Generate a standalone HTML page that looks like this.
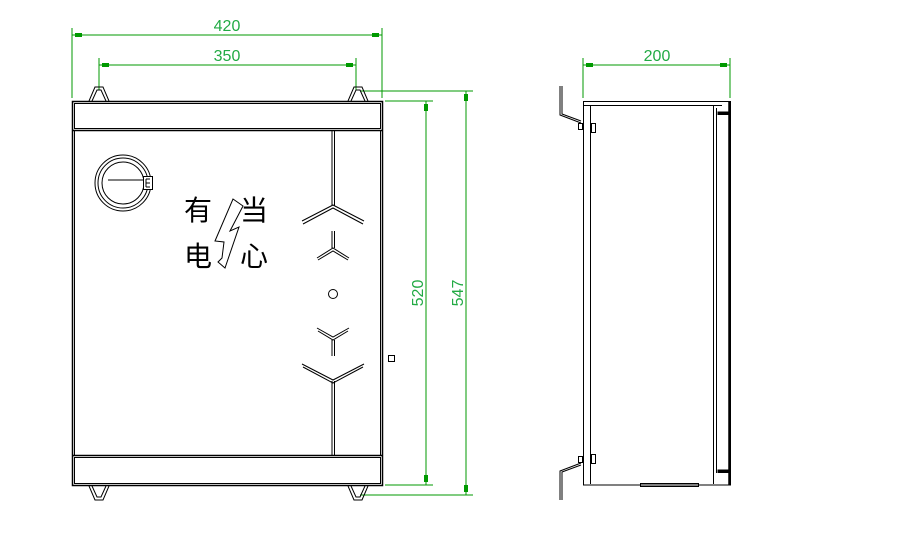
<!DOCTYPE html>
<html><head><meta charset="utf-8"><style>body{margin:0;background:#fff}svg{display:block}</style></head><body>
<svg width="907" height="544" viewBox="0 0 907 544" xmlns="http://www.w3.org/2000/svg">
<g stroke="#009900" stroke-width="1" fill="none">
<line x1="72" y1="28" x2="72" y2="98"/><line x1="382" y1="28" x2="382" y2="98"/>
<line x1="72" y1="35" x2="382" y2="35"/>
<line x1="99" y1="58" x2="99" y2="90"/><line x1="356" y1="58" x2="356" y2="90"/>
<line x1="99" y1="65" x2="356" y2="65"/>
<line x1="385" y1="101" x2="433" y2="101"/><line x1="385" y1="485" x2="433" y2="485"/>
<line x1="426" y1="101" x2="426" y2="485"/>
<line x1="360" y1="91" x2="473" y2="91"/><line x1="360" y1="495" x2="473" y2="495"/>
<line x1="466" y1="91" x2="466" y2="495"/>
<line x1="583" y1="58" x2="583" y2="98"/><line x1="730" y1="58" x2="730" y2="98"/>
<line x1="583" y1="65" x2="730" y2="65"/>
</g>
<g fill="#009900">
<rect x="75" y="33" width="7" height="4"/><rect x="372" y="33" width="7" height="4"/>
<rect x="102" y="63" width="7" height="4"/><rect x="346" y="63" width="7" height="4"/>
<rect x="586" y="63" width="7" height="4"/><rect x="720" y="63" width="7" height="4"/>
<rect x="424" y="104" width="4" height="7"/><rect x="424" y="475" width="4" height="7"/>
<rect x="464" y="94" width="4" height="7"/><rect x="464" y="485" width="4" height="7"/>
</g>
<g fill="#22aa44" font-family="Liberation Sans, sans-serif" font-size="16">
<text x="227" y="31" text-anchor="middle">420</text>
<text x="227" y="61" text-anchor="middle">350</text>
<text x="657" y="61" text-anchor="middle">200</text>
<text transform="translate(423,293) rotate(-90)" text-anchor="middle">520</text>
<text transform="translate(463,293) rotate(-90)" text-anchor="middle">547</text>
</g>
<g stroke="#000" fill="none" stroke-width="1">
<rect x="72.5" y="101.5" width="310" height="384" stroke-width="1.5"/>
<rect x="74.5" y="103.5" width="306" height="25"/>
<line x1="72" y1="130.5" x2="383" y2="130.5" stroke-width="1.5"/>
<rect x="74.5" y="457.5" width="306" height="26"/>
<line x1="72" y1="455.5" x2="383" y2="455.5" stroke-width="1.5"/>
<line x1="74.5" y1="130" x2="74.5" y2="455"/>
<line x1="380.5" y1="130" x2="380.5" y2="455"/>
<path d="M89 101 L95 87 L103 87 L109 101 M92 101 L97 90 L101 90 L106 101"/>
<path d="M348 101 L354 87 L362 87 L368 101 M351 101 L356 90 L360 90 L365 101"/>
<path d="M89 486 L95 500 L103 500 L109 486 M92 486 L97 497 L101 497 L106 486"/>
<path d="M348 486 L354 500 L362 500 L368 486 M351 486 L356 497 L360 497 L365 486"/>
<line x1="332" y1="131" x2="332" y2="206"/><line x1="334.5" y1="131" x2="334.5" y2="206"/>
<line x1="332" y1="381" x2="332" y2="455"/><line x1="334.5" y1="381" x2="334.5" y2="455"/>
<path d="M302 221 L333 205 L364 221 M303 224 L333 208 L363 224"/>
<path d="M332 231 L332 248 M334.5 231 L334.5 248 M317 258 L333 248 L349 258 M318 260 L333 251 L348 260"/>
<circle cx="333" cy="294" r="4.5"/>
<path d="M317 328 L333 337 L349 328 M318 331 L333 340 L348 331 M332 340 L332 356 M334.5 340 L334.5 356"/>
<path d="M302 364 L333 380 L364 364 M303 367 L333 383 L363 367"/>
<rect x="388.5" y="355.5" width="6" height="6"/>
<circle cx="123" cy="183" r="28"/><circle cx="123" cy="183" r="25"/><circle cx="123" cy="183" r="21"/>
<line x1="108" y1="180" x2="144" y2="180"/>
<rect x="143.5" y="176.5" width="9" height="13" fill="#fff"/>
<path d="M146 179 h4 M146 183 h4 M146 187 h4 M146 179 v8"/>
<path d="M233 199 L243 206 L230 231 L239 227 L225 268 L218 262 L222 258 L224 242 L215 241 Z"/>
<rect x="583.5" y="101.5" width="147" height="383.5"/>
<line x1="584" y1="105.5" x2="722" y2="105.5"/>
<line x1="590.5" y1="105" x2="590.5" y2="484"/>
<line x1="713.5" y1="105" x2="713.5" y2="484"/>
<line x1="716.5" y1="108" x2="716.5" y2="473"/>
<line x1="729.5" y1="101" x2="729.5" y2="485" stroke-width="2.5"/>
<rect x="718" y="112" width="11" height="2.5" fill="#000"/>
<rect x="718" y="470" width="11" height="2.5" fill="#000"/>
<rect x="591.5" y="123.5" width="4" height="9"/><rect x="591.5" y="454.5" width="4" height="9"/>
<path d="M560 86 L560 115 L581 123 M562 86 L562 114 L581 121"/>
<path d="M560 500 L560 471 L581 463 M562 500 L562 472 L581 465"/>
<rect x="578.5" y="123.5" width="4" height="6"/><rect x="578.5" y="456.5" width="4" height="6"/>
<rect x="640.5" y="483.5" width="58" height="3"/>
</g>
<g fill="#000" font-family="'Liberation Sans','Noto Sans CJK SC',sans-serif" font-size="28">
<text x="184" y="220">有</text><text x="240" y="220">当</text>
<text x="184" y="266">电</text><text x="240" y="266">心</text>
</g>
</svg>
</body></html>
